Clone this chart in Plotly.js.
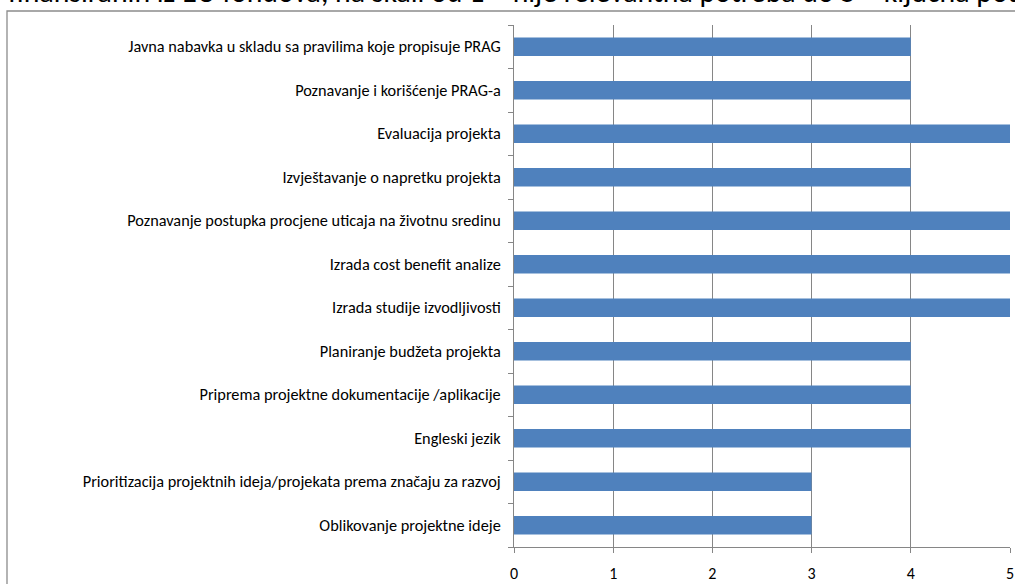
<!DOCTYPE html>
<html>
<head>
<meta charset="utf-8">
<script src="https://cdn.plot.ly/plotly-3.0.1.min.js"></script>
<style>html,body{margin:0;padding:0;background:#fff;}#chart{width:1015px;height:584px;}</style>
</head>
<body>
<div id="chart"></div>
<script>
// Categories listed bottom to top
const categories = [
  "Oblikovanje projektne ideje",
  "Prioritizacija projektnih ideja/projekata prema značaju za razvoj",
  "Engleski jezik",
  "Priprema projektne dokumentacije /aplikacije",
  "Planiranje budžeta projekta",
  "Izrada studije izvodljivosti",
  "Izrada cost benefit analize",
  "Poznavanje postupka procjene uticaja na životnu sredinu",
  "Izvještavanje o napretku projekta",
  "Evaluacija projekta",
  "Poznavanje i korišćenje PRAG-a",
  "Javna nabavka u skladu sa pravilima koje propisuje PRAG"
];
const values = [3, 3, 4, 4, 4, 5, 5, 5, 4, 5, 4, 4];
const xTicks = [0, 1, 2, 3, 4, 5];
const titleText = "finansiranih iz EU fondova, na skali od 1 – nije relevantna potreba do 5 – ključna potreba";

const FONT = "Carlito, 'Liberation Sans Narrow', 'DejaVu Sans Condensed', sans-serif";

const L = 514, R = 1010, T = 25, B = 547;
const W = 1015, H = 584;
const pw = R - L, ph = B - T;
const px = x => (x - L) / pw;
const py = y => (B - y) / ph;

Plotly.newPlot('chart', [{
  type: 'bar',
  orientation: 'h',
  x: values,
  y: categories,
  marker: {color: '#4F81BD', line: {width: 0}},
  hoverinfo: 'x+y'
}], {
  width: W, height: H,
  margin: {l: L, r: W - R, t: T, b: H - B, pad: 0},
  paper_bgcolor: '#ffffff',
  plot_bgcolor: '#ffffff',
  bargap: 0.57,
  showlegend: false,
  font: {family: FONT, size: 16, color: '#000000'},
  xaxis: {
    range: [0, 5],
    tickvals: xTicks,
    ticktext: xTicks.map(String),
    showgrid: true, gridcolor: '#868686', gridwidth: 1,
    zeroline: false,
    showline: true, linecolor: '#868686', linewidth: 1,
    ticks: 'outside', ticklen: 5, tickcolor: '#868686',
    tickfont: {family: FONT, size: 16, color: '#000000'},
    ticklabelstandoff: 7,
    automargin: false,
    fixedrange: true
  },
  yaxis: {
    type: 'category',
    categoryorder: 'array', categoryarray: categories,
    tickson: 'boundaries',
    showgrid: false,
    showline: true, linecolor: '#868686', linewidth: 1,
    ticks: 'outside', ticklen: 5, tickcolor: '#868686',
    tickfont: {family: FONT, size: 16.3, color: '#000000'},
    ticklabelstandoff: 9,
    automargin: false,
    fixedrange: true
  },
  shapes: [{
    type: 'rect', xref: 'paper', yref: 'paper',
    x0: px(7), x1: px(1030), y0: py(600), y1: py(11),
    line: {color: '#8c8c8c', width: 1.3}, fillcolor: 'rgba(0,0,0,0)', layer: 'below'
  }],
  annotations: [{
    xref: 'paper', yref: 'paper',
    x: px(6), y: py(-8),
    xanchor: 'left', yanchor: 'middle',
    text: titleText, showarrow: false,
    font: {family: FONT, size: 29.8, color: '#000000'}
  }]
}, {displayModeBar: false, staticPlot: false});
</script>
</body>
</html>
